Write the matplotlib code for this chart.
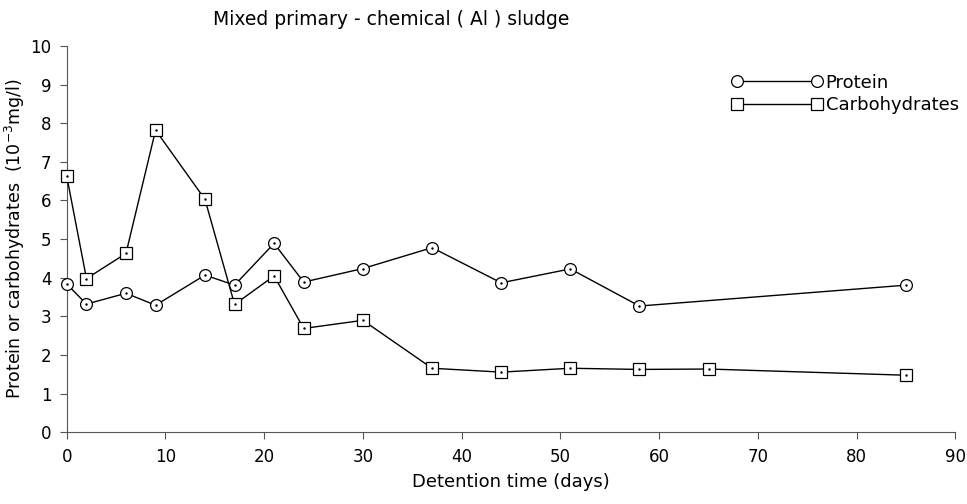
import matplotlib
matplotlib.use("Agg")
import matplotlib.pyplot as plt

# detention time (days)
protein_days = [0, 2, 6, 9, 14, 17, 21, 24, 30, 37, 44, 51, 58, 85]
protein_vals = [3.84, 3.32, 3.60, 3.29, 4.07, 3.81, 4.89, 3.89, 4.24, 4.78, 3.87, 4.23, 3.27, 3.81]

carb_days = [0, 2, 6, 9, 14, 17, 21, 24, 30, 37, 44, 51, 58, 65, 85]
carb_vals = [6.63, 3.98, 4.63, 7.82, 6.03, 3.31, 4.05, 2.69, 2.90, 1.66, 1.56, 1.66, 1.63, 1.64, 1.48]

x_ticks = list(range(0, 100, 10))
y_ticks = list(range(0, 11))

plt.rcParams["font.family"] = ["DejaVu Sans"]

fig = plt.figure(figsize=(9.67, 5.04), dpi=100)
ax = fig.add_axes([0.069, 0.142, 0.919, 0.767])

ax.plot(protein_days, protein_vals, "-o", color="black", linewidth=1.0,
        markersize=8.5, markerfacecolor="white", markeredgewidth=0.9,
        label="Protein", clip_on=False, zorder=3)
ax.plot(carb_days, carb_vals, "-s", color="black", linewidth=1.0,
        markersize=8, markerfacecolor="white", markeredgewidth=0.9,
        label="Carbohydrates", clip_on=False, zorder=3)
# small centre dots, as on the original plotter output
ax.plot(protein_days, protein_vals, ".", color="black", markersize=1.5,
        clip_on=False, zorder=4)
ax.plot(carb_days, carb_vals, ".", color="black", markersize=1.5,
        clip_on=False, zorder=4)

ax.set_xlim(0, 90)
ax.set_ylim(0, 10)
ax.set_xticks(x_ticks)
ax.set_yticks(y_ticks)
ax.spines["top"].set_visible(False)
ax.spines["right"].set_visible(False)
ax.spines["left"].set_color("#555555")
ax.spines["bottom"].set_color("#555555")
ax.tick_params(direction="out", length=5, width=0.8, color="#555555",
               labelsize=12, pad=6)

ax.set_xlabel("Detention time (days)", fontsize=13)
ax.xaxis.set_label_coords(0.5, -0.105)
ax.set_ylabel("Protein or carbohydrates  (10$^{-3}$mg/l)", fontsize=12.5)
ax.yaxis.set_label_coords(-0.045, 0.5)

fig.text(0.405, 0.962, "Mixed primary - chemical ( Al ) sludge",
         ha="center", va="center", fontsize=13.5)

ax.legend(loc="upper right", bbox_to_anchor=(1.022, 0.97), frameon=False,
          numpoints=2, handlelength=5, fontsize=13, handletextpad=0.2,
          labelspacing=0.25)

fig.savefig("out.png", dpi=100)
